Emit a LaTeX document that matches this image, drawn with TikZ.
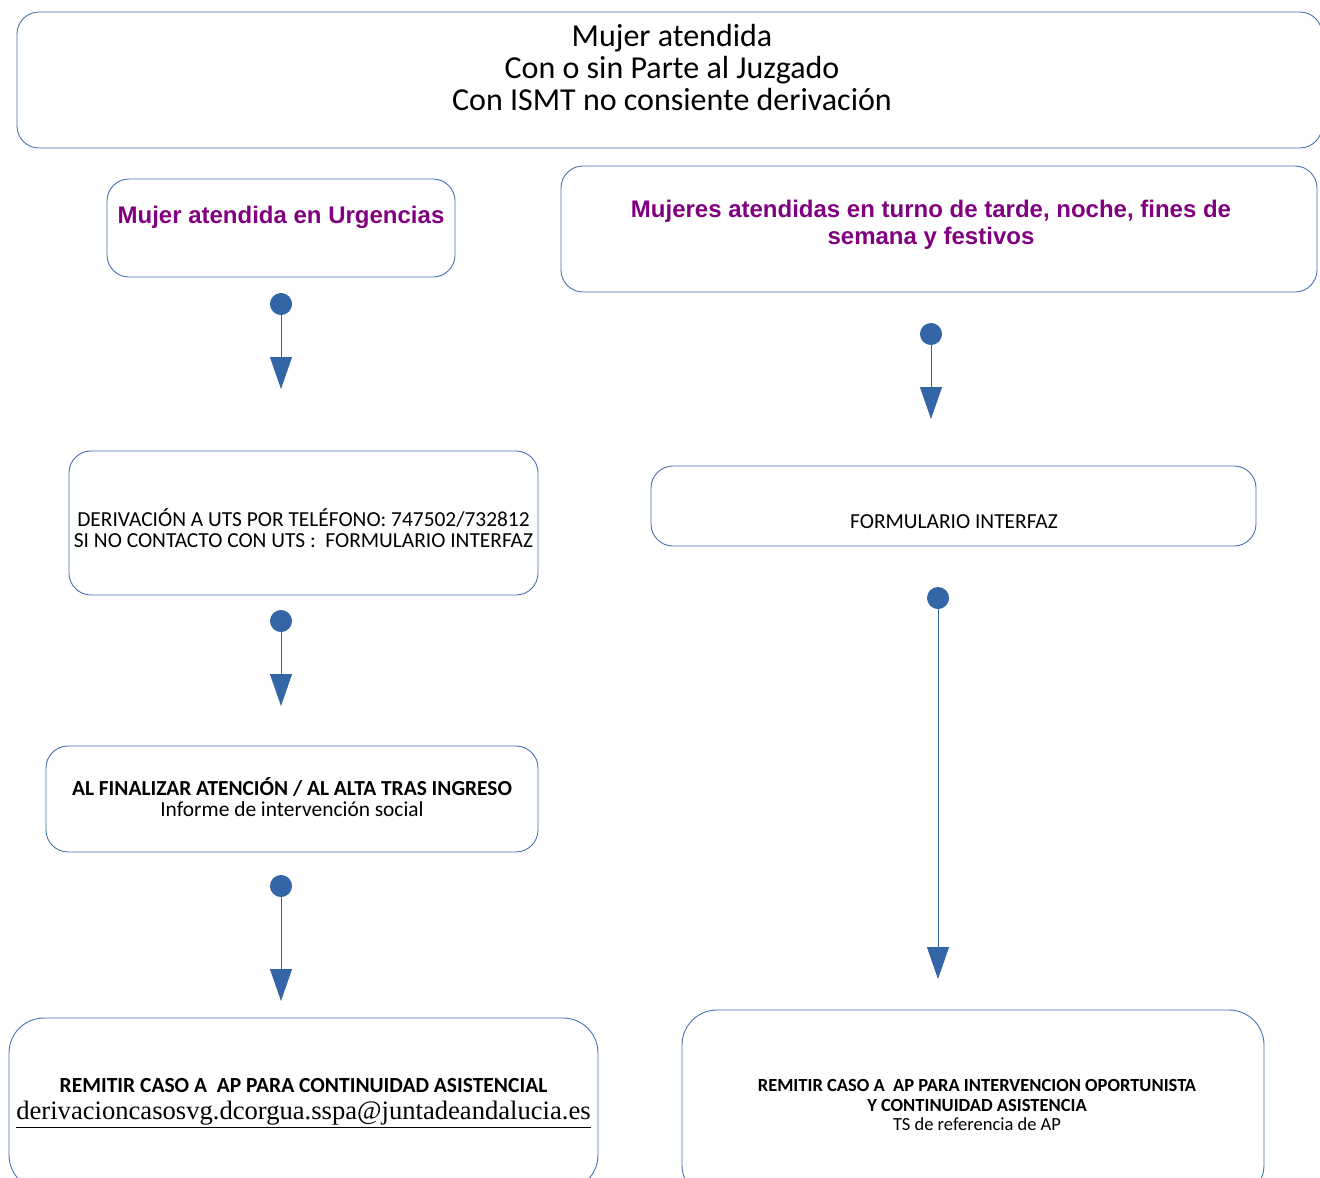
\documentclass[tikz,border=0pt]{standalone}
\usepackage{fontspec}
\setmainfont{Carlito}
\newfontfamily\headfont{Liberation Sans}
\newfontfamily\mailfont{Liberation Serif}
\usetikzlibrary{arrows.meta}
\definecolor{boxline}{RGB}{72,114,180}
\definecolor{flowblue}{RGB}{52,101,166}
\definecolor{headpurple}{RGB}{128,0,128}

\begin{document}
\begin{tikzpicture}[x = 1pt, y = -1pt,
		box/.style = {draw = boxline, line width = .9pt, rounded corners = 22pt, inner sep = 0pt},
		bigbox/.style = {box, rounded corners = 35pt},
		txt/.style = {align = center, inner sep = 0pt, font = \fontsize{21.4}{21}\selectfont},
		head/.style = {align = center, inner sep = 0pt, text = headpurple, font = \headfont\bfseries\fontsize{24}{27}\selectfont},
		flow/.style = {draw = flowblue, line width = .9pt, fill = flowblue, {Circle[length = 22pt]}-{Triangle[length = 32pt, width = 22pt]}}]
	\useasboundingbox (0,0) rectangle (1320,1178);
	% boxes
	\node[box, minimum width = 1305pt, minimum height = 136pt] (top) at (669.5,80) {};
	\node[box, minimum width = 348pt, minimum height = 98pt] (urg) at (281,228) {};
	\node[box, minimum width = 756pt, minimum height = 126pt] (turno) at (939,229) {};
	\node[box, minimum width = 469pt, minimum height = 144pt] (deriv) at (303.5,523) {};
	\node[box, minimum width = 605pt, minimum height = 80pt] (form) at (953.5,506) {};
	\node[box, minimum width = 492pt, minimum height = 106pt] (fin) at (292,799) {};
	\node[bigbox, minimum width = 589pt, minimum height = 172pt] (remL) at (303.5,1104) {};
	\node[bigbox, minimum width = 582pt, minimum height = 190pt] (remR) at (973,1105) {};
	% texts
	\node[txt, font = \fontsize{32}{32}\selectfont] (toptxt) at (672,68) {Mujer atendida\\Con o sin Parte al Juzgado\\Con ISMT no consiente derivación};
	\node[head] (urgtxt) at (281,217) {Mujer atendida en Urgencias};
	\node[head] (turnotxt) at (931,225) {Mujeres atendidas en turno de tarde, noche, fines de\\semana y festivos};
	\node[txt] (derivtxt) at (303.5,528) {DERIVACIÓN A UTS POR TELÉFONO: 747502/732812\\SI NO CONTACTO CON UTS :~~FORMULARIO INTERFAZ};
	\node[txt] (formtxt) at (954,522) {FORMULARIO INTERFAZ};
	\node[txt] (fintxt) at (292,797) {\textbf{AL FINALIZAR ATENCIÓN / AL ALTA TRAS INGRESO}\\Informe de intervención social};
	\node[txt, font = \fontsize{21.5}{27}\selectfont] (remLtxt) at (303.5,1103) {\textbf{REMITIR CASO A~~AP PARA CONTINUIDAD ASISTENCIAL}\\{\mailfont\fontsize{26.6}{27}\selectfont\underline{derivacioncasosvg.dcorgua.sspa@juntadeandalucia.es}}};
	\node[txt, font = \fontsize{18.5}{19.5}\selectfont] (remRtxt) at (977,1105) {\textbf{REMITIR CASO A~~AP PARA INTERVENCION OPORTUNISTA}\\\textbf{Y CONTINUIDAD ASISTENCIA}\\TS de referencia de AP};
	% connectors
	\coordinate (urgdot) at (281,293);
	\coordinate (urgtip) at (281,389);
	\coordinate (turnodot) at (931,323);
	\coordinate (turnotip) at (931,419);
	\coordinate (derivdot) at (281,610);
	\coordinate (derivtip) at (281,706);
	\coordinate (formdot) at (938,587);
	\coordinate (formtip) at (938,979);
	\coordinate (findot) at (281,875);
	\coordinate (fintip) at (281,1001);
	\draw[flow] (urgdot) -- (urgtip);
	\draw[flow] (turnodot) -- (turnotip);
	\draw[flow] (derivdot) -- (derivtip);
	\draw[flow] (formdot) -- (formtip);
	\draw[flow] (findot) -- (fintip);
\end{tikzpicture}
\end{document}
